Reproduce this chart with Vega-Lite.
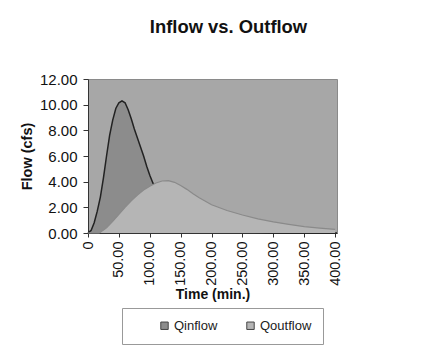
{
  "$schema": "https://vega.github.io/schema/vega-lite/v6.json",
  "autosize": {"type": "none"},
  "padding": {"left": 88, "top": 79, "right": 108, "bottom": 119},
  "width": 249,
  "height": 154,
  "background": "white",
  "title": {"text": "Inflow vs. Outflow", "fontSize": 18.4, "font": "Liberation Sans", "fontWeight": "bold", "color": "#111", "anchor": "middle", "frame": "group", "dx": 16, "offset": 36},
  "config": {
    "font": "Liberation Sans",
    "view": {"fill": "#a7a7a7", "stroke": "#8a8a8a", "strokeWidth": 1},
    "axis": {"labelFont": "Liberation Sans", "titleFont": "Liberation Sans", "labelColor": "#111", "titleColor": "#111", "domainColor": "#333", "tickColor": "#333", "grid": false}
  },
  "data": {"values": [
    {"time": 0, "series": "Qinflow", "flow": 0},
    {"time": 5, "series": "Qinflow", "flow": 0.2},
    {"time": 10, "series": "Qinflow", "flow": 0.8},
    {"time": 15, "series": "Qinflow", "flow": 1.7},
    {"time": 20, "series": "Qinflow", "flow": 2.8},
    {"time": 25, "series": "Qinflow", "flow": 4.3},
    {"time": 30, "series": "Qinflow", "flow": 6.0},
    {"time": 35, "series": "Qinflow", "flow": 7.6},
    {"time": 40, "series": "Qinflow", "flow": 8.8},
    {"time": 45, "series": "Qinflow", "flow": 9.7},
    {"time": 50, "series": "Qinflow", "flow": 10.15},
    {"time": 55, "series": "Qinflow", "flow": 10.3},
    {"time": 60, "series": "Qinflow", "flow": 10.15},
    {"time": 65, "series": "Qinflow", "flow": 9.6},
    {"time": 70, "series": "Qinflow", "flow": 8.9},
    {"time": 75, "series": "Qinflow", "flow": 8.1},
    {"time": 80, "series": "Qinflow", "flow": 7.4},
    {"time": 85, "series": "Qinflow", "flow": 6.7},
    {"time": 90, "series": "Qinflow", "flow": 6.0},
    {"time": 95, "series": "Qinflow", "flow": 5.2},
    {"time": 100, "series": "Qinflow", "flow": 4.5},
    {"time": 105, "series": "Qinflow", "flow": 3.9},
    {"time": 110, "series": "Qinflow", "flow": 3.4},
    {"time": 115, "series": "Qinflow", "flow": 3.0},
    {"time": 120, "series": "Qinflow", "flow": 2.6},
    {"time": 130, "series": "Qinflow", "flow": 2.0},
    {"time": 140, "series": "Qinflow", "flow": 1.6},
    {"time": 150, "series": "Qinflow", "flow": 1.2},
    {"time": 175, "series": "Qinflow", "flow": 0.7},
    {"time": 200, "series": "Qinflow", "flow": 0.4},
    {"time": 250, "series": "Qinflow", "flow": 0.1},
    {"time": 300, "series": "Qinflow", "flow": 0},
    {"time": 403, "series": "Qinflow", "flow": 0},
    {"time": 0, "series": "Qoutflow", "flow": 0},
    {"time": 18, "series": "Qoutflow", "flow": 0},
    {"time": 20, "series": "Qoutflow", "flow": 0.05},
    {"time": 30, "series": "Qoutflow", "flow": 0.4},
    {"time": 40, "series": "Qoutflow", "flow": 0.9},
    {"time": 50, "series": "Qoutflow", "flow": 1.45},
    {"time": 60, "series": "Qoutflow", "flow": 2.0},
    {"time": 70, "series": "Qoutflow", "flow": 2.5},
    {"time": 80, "series": "Qoutflow", "flow": 2.95},
    {"time": 90, "series": "Qoutflow", "flow": 3.35},
    {"time": 100, "series": "Qoutflow", "flow": 3.65},
    {"time": 110, "series": "Qoutflow", "flow": 3.9},
    {"time": 120, "series": "Qoutflow", "flow": 4.05},
    {"time": 130, "series": "Qoutflow", "flow": 4.08},
    {"time": 140, "series": "Qoutflow", "flow": 3.95},
    {"time": 150, "series": "Qoutflow", "flow": 3.7},
    {"time": 160, "series": "Qoutflow", "flow": 3.4},
    {"time": 170, "series": "Qoutflow", "flow": 3.05},
    {"time": 180, "series": "Qoutflow", "flow": 2.75},
    {"time": 200, "series": "Qoutflow", "flow": 2.2},
    {"time": 225, "series": "Qoutflow", "flow": 1.75},
    {"time": 250, "series": "Qoutflow", "flow": 1.4},
    {"time": 275, "series": "Qoutflow", "flow": 1.1},
    {"time": 300, "series": "Qoutflow", "flow": 0.86},
    {"time": 325, "series": "Qoutflow", "flow": 0.67},
    {"time": 350, "series": "Qoutflow", "flow": 0.5},
    {"time": 375, "series": "Qoutflow", "flow": 0.38},
    {"time": 400, "series": "Qoutflow", "flow": 0.28}
  ]},
  "encoding": {
    "x": {"field": "time", "type": "quantitative", "scale": {"domain": [0, 403], "nice": false},
      "axis": {"title": "Time (min.)", "titleFontSize": 14, "titleFontWeight": "bold", "titlePadding": 2,
        "values": [0, 50, 100, 150, 200, 250, 300, 350, 400], "labelAngle": -90, "labelFontSize": 14.5,
        "labelExpr": "datum.value == 0 ? '0' : format(datum.value, '.2f')", "tickSize": 4, "labelPadding": 4, "labelFlush": false, "labelOverlap": false}},
    "y": {"field": "flow", "type": "quantitative", "scale": {"domain": [0, 12], "nice": false},
      "axis": {"title": "Flow (cfs)", "titleFontSize": 14.5, "titleFontWeight": "bold", "titlePadding": 5,
        "values": [0, 2, 4, 6, 8, 10, 12], "format": ".2f", "labelFontSize": 15, "tickSize": 5, "labelPadding": 6}}
  },
  "layer": [
    {"transform": [{"filter": "datum.series == 'Qinflow'"}],
     "mark": {"type": "area", "opacity": 1},
     "encoding": {"color": {"field": "series", "type": "nominal", "scale": {"domain": ["Qinflow", "Qoutflow"], "range": ["#8c8c8c", "#b5b5b5"]},
      "legend": {"title": null, "orient": "none", "legendX": 34, "legendY": 229, "direction": "horizontal",
        "padding": 11, "strokeColor": "#999", "fillColor": "white", "symbolType": "square", "symbolSize": 55,
        "symbolStrokeColor": "#444", "symbolStrokeWidth": 1, "symbolOpacity": 1, "symbolOffset": 25, "labelOffset": 3,
        "labelFontSize": 13, "labelFont": "Liberation Sans", "labelColor": "#222", "columnPadding": 1,
        "labelExpr": "datum.label == 'Qoutflow' ? datum.label + '    ' : datum.label"}}}},
    {"transform": [{"filter": "datum.series == 'Qinflow'"}],
     "mark": {"type": "line", "color": "#222", "strokeWidth": 1.5}},
    {"transform": [{"filter": "datum.series == 'Qoutflow'"}],
     "mark": {"type": "area", "opacity": 1},
     "encoding": {"color": {"field": "series", "type": "nominal"}}},
    {"transform": [{"filter": "datum.series == 'Qoutflow'"}],
     "mark": {"type": "line", "color": "#8a8a8a", "strokeWidth": 1.2}}
  ]
}
